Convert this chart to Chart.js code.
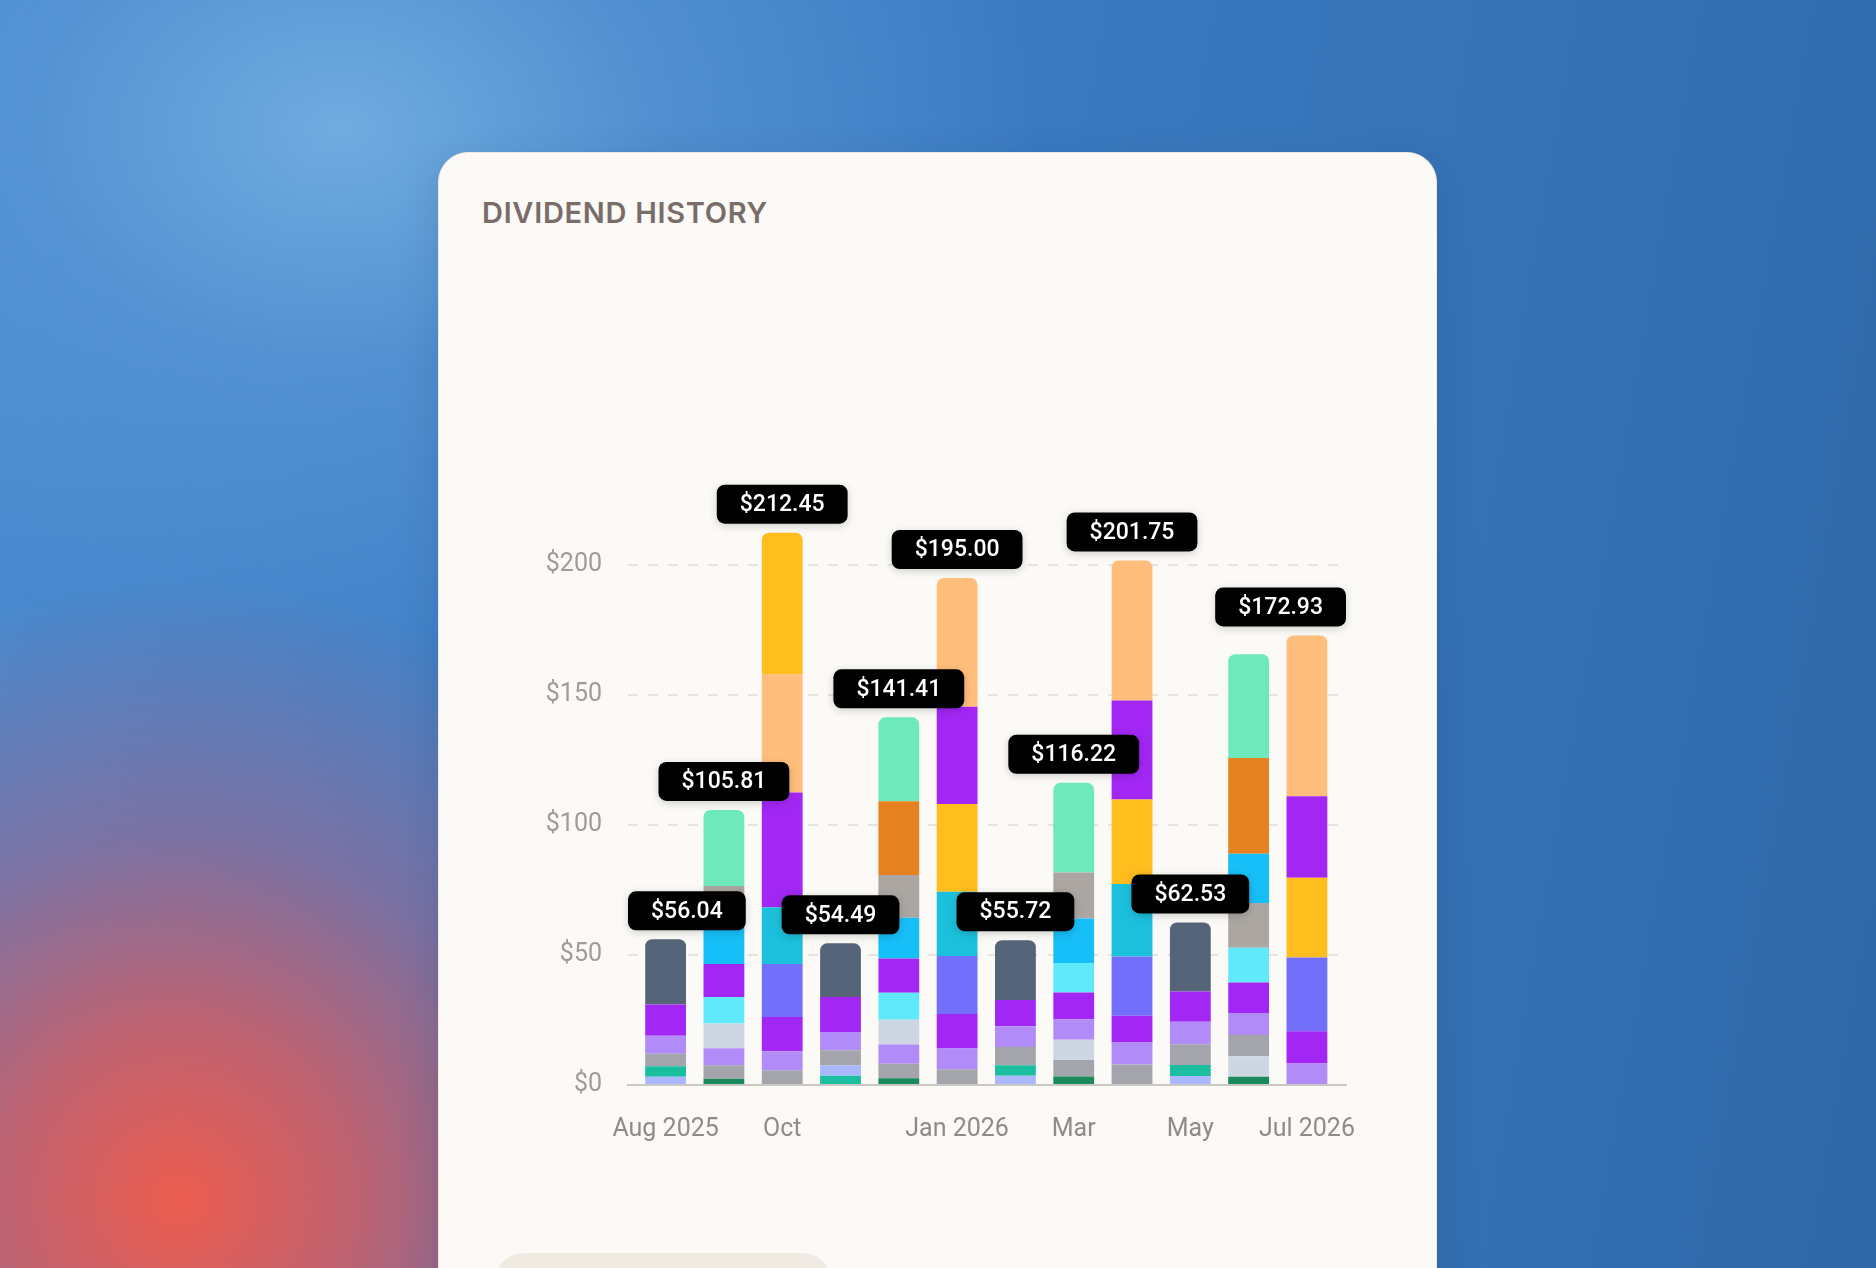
<!DOCTYPE html>
<html lang="en">
<head>
    <meta charset="UTF-8">
    <title>Dividend History</title>
    <script src="https://cdn.jsdelivr.net/npm/chart.js"></script>
    <style>
        html, body {
            margin: 0;
            padding: 0;
            width: 1876px;
            height: 1268px;
            overflow: hidden;
        }

        body {
            position: relative;
            background:
                radial-gradient(circle at 180px 1200px, rgba(236, 92, 78, 1) 0, rgba(214, 92, 96, 0.85) 170px, rgba(170, 98, 130, 0.55) 360px, rgba(110, 110, 170, 0) 620px),
                radial-gradient(ellipse 700px 520px at 340px 130px, rgba(112, 172, 224, 1) 0, rgba(90, 152, 214, 0.6) 320px, rgba(70, 130, 200, 0) 700px),
                linear-gradient(100deg, #4a8bd0 0%, #3c7cc3 45%, #2e68a9 100%);
            font-family: 'Inter', 'Roboto', sans-serif;
        }

        .card {
            position: absolute;
            left: 438px;
            top: 152px;
            width: 999px;
            height: 1200px;
            background: #fbfaf6;
            border-radius: 30px;
            border: 1px solid #eee8de;
            box-sizing: border-box;
            box-shadow: 0 12px 40px rgba(20, 40, 80, 0.14);
        }

        .card h2 {
            position: absolute;
            left: 43px;
            top: 45px;
            margin: 0;
            font-size: 29px;
            line-height: 29px;
            font-weight: 600;
            color: #7a6c68;
            letter-spacing: 0.7px;
        }

        .button-stub {
            position: absolute;
            left: 55px;
            top: 1100px;
            width: 338px;
            height: 80px;
            border-radius: 30px;
            background: #efebe3;
        }

        #chart-wrap {
            position: absolute;
            left: 439px;
            top: 420px;
            width: 998px;
            height: 740px;
        }
    </style>
</head>
<body>
    <div class="card">
        <h2>DIVIDEND HISTORY</h2>
        <div class="button-stub"></div>
    </div>
    <div id="chart-wrap">
        <canvas id="dividend-chart"></canvas>
    </div>
    <script>
        // months shown on the x axis (Aug 2025 .. Jul 2026)
        const months = ['Aug 2025', 'Sep 2025', 'Oct 2025', 'Nov 2025', 'Dec 2025', 'Jan 2026',
                        'Feb 2026', 'Mar 2026', 'Apr 2026', 'May 2026', 'Jun 2026', 'Jul 2026'];
        const tickLabels = ['Aug 2025', '', 'Oct', '', '', 'Jan 2026', '', 'Mar', '', 'May', '', 'Jul 2026'];
        const yTicks = [0, 50, 100, 150, 200];

        // dividend paid per holding per month (null = nothing paid that month)
        const periwinkle = [3.2, null, null, 3.9, null, null, 3.6, null, null, 3.5, null, null];
        const teal       = [4.0, null, null, 3.6, null, null, 4.0, null, null, 4.2, null, null];
        const grey       = [4.8, 5.2, 5.7, 5.9, 5.6, 6.1, 7.0, 6.3, 7.9, 8.0, 8.1, null];
        const lavender   = [6.9, 6.5, 7.3, 7.0, 7.4, 7.9, 8.0, 7.9, 8.4, 8.6, 8.5, 8.3];
        const purple     = [12.1, 12.7, 13.2, 13.4, 13.2, 13.3, 10.1, 10.3, 10.3, 11.7, 11.7, 12.4];
        const slate      = [25.04, null, null, 20.69, null, null, 23.02, null, null, 26.53, null, null];
        const darkGreen  = [null, 2.4, null, null, 2.6, null, null, 3.3, null, null, 3.2, null];
        const blueGrey   = [null, 9.6, null, null, 9.5, null, null, 7.8, null, null, 7.9, null];
        const cyanLight  = [null, 10.1, null, null, 10.4, null, null, 11.3, null, null, 13.4, null];
        const skyBlue    = [null, 14.9, null, null, 15.6, null, null, 17.1, null, null, 18.9, null];
        const warmGrey   = [null, 15.1, null, null, 16.5, null, null, 17.7, null, null, 17.2, null];
        const orange     = [null, null, null, null, 28.3, null, null, null, null, null, 36.9, null];
        const mint       = [null, 29.31, null, null, 32.31, null, null, 34.52, null, null, 39.9, null];
        const indigo     = [null, null, 20.3, null, null, 22.3, null, null, 22.8, null, null, 28.3];
        const tealCyan   = [null, null, 21.9, null, null, 24.7, null, null, 27.9, null, null, null];
        const gold       = [null, null, 54.45, null, null, 33.8, null, null, 32.5, null, null, 30.7];
        const violet     = [null, null, 44.1, null, null, 37.4, null, null, 38.1, null, null, 31.4];
        const peach      = [null, null, 45.5, null, null, 49.5, null, null, 53.85, null, null, 61.83];

        const holdings = [
            ['periwinkle', periwinkle], ['teal', teal], ['grey', grey], ['lavender', lavender],
            ['purple', purple], ['slate', slate], ['darkGreen', darkGreen], ['blueGrey', blueGrey],
            ['cyanLight', cyanLight], ['skyBlue', skyBlue], ['warmGrey', warmGrey], ['orange', orange],
            ['mint', mint], ['indigo', indigo], ['tealCyan', tealCyan], ['gold', gold],
            ['violet', violet], ['peach', peach]
        ];

        const palette = {
            periwinkle: '#a9b8ff', teal: '#1bbf9f', grey: '#a4a4ad', lavender: '#b18cf8',
            purple: '#a227f4', slate: '#56647a', darkGreen: '#1a8a5c', blueGrey: '#cdd7e3',
            cyanLight: '#5fe9fa', skyBlue: '#17bff9', warmGrey: '#aba6a1', orange: '#e5821f',
            mint: '#6ee9bd', indigo: '#7270fa', tealCyan: '#1dc0dc', gold: '#ffbe1e',
            violet: '#a227f4', peach: '#ffbe7b'
        };

        // each bar stacks its holdings smallest at the bottom, so build one dataset per layer
        const sortedPerMonth = months.map((m, i) => holdings
            .filter(([, vals]) => vals[i] != null)
            .map(([name, vals]) => ({ name, value: vals[i] }))
            .sort((a, b) => a.value - b.value));
        const layerCount = Math.max(...sortedPerMonth.map(s => s.length));
        const totals = sortedPerMonth.map(s => s.reduce((sum, h) => sum + h.value, 0));

        const datasets = [];
        for (let layer = 0; layer < layerCount; layer++) {
            datasets.push({
                data: sortedPerMonth.map(s => s[layer] ? s[layer].value : null),
                backgroundColor: sortedPerMonth.map(s => s[layer] ? palette[s[layer].name] : 'transparent'),
                borderWidth: 0,
                borderRadius: 7,
                barPercentage: 0.7,
                categoryPercentage: 1
            });
        }

        // black pill labels with the month total; skip one if it would collide with a bigger one
        const totalLabels = {
            id: 'totalLabels',
            afterDatasetsDraw(chart) {
                const { ctx, chartArea, scales: { x, y } } = chart;
                ctx.save();
                ctx.font = '500 23px Roboto';
                const placed = [];
                const order = totals.map((t, i) => i).sort((a, b) => totals[b] - totals[a]);
                order.forEach(i => {
                    const text = '$' + totals[i].toFixed(2);
                    const w = ctx.measureText(text).width + 46;
                    const h = 39;
                    let left = x.getPixelForValue(i) - w / 2;
                    left = Math.max(chartArea.left, Math.min(chartArea.right - w, left));
                    const top = y.getPixelForValue(totals[i]) - 9 - h;
                    const box = { left, top, right: left + w, bottom: top + h };
                    const hit = placed.some(b => box.left < b.right && box.right > b.left &&
                                                 box.top < b.bottom && box.bottom > b.top);
                    if (hit) return;
                    placed.push(box);
                    ctx.shadowColor = 'rgba(0, 0, 0, 0.18)';
                    ctx.shadowBlur = 8;
                    ctx.shadowOffsetY = 2;
                    ctx.fillStyle = '#000';
                    ctx.beginPath();
                    ctx.roundRect(left, top, w, h, 8);
                    ctx.fill();
                    ctx.shadowColor = 'transparent';
                    ctx.fillStyle = '#fff';
                    ctx.textAlign = 'center';
                    ctx.textBaseline = 'middle';
                    ctx.fillText(text, left + w / 2, top + h / 2 + 1);
                });
                ctx.restore();
            }
        };

        new Chart(document.getElementById('dividend-chart'), {
            type: 'bar',
            data: {
                labels: months.map((m, i) => i),
                datasets: datasets
            },
            options: {
                responsive: true,
                maintainAspectRatio: false,
                animation: false,
                layout: { padding: { left: 0, right: 91, top: 32, bottom: 0 } },
                plugins: {
                    legend: { display: false },
                    tooltip: { enabled: false }
                },
                scales: {
                    x: {
                        type: 'linear',
                        stacked: true,
                        offset: false,
                        bounds: 'data',
                        min: -0.645,
                        max: 11.67,
                        afterBuildTicks: axis => { axis.ticks = months.map((m, i) => ({ value: i })); },
                        afterFit: axis => { axis.height = 75; },
                        grid: { display: false, drawTicks: false, offset: false },
                        border: { display: true, color: '#cbc8c3', width: 2 },
                        ticks: {
                            autoSkip: false,
                            maxRotation: 0,
                            padding: 30,
                            color: '#8f8b87',
                            font: { family: 'Roboto', size: 25 },
                            callback: v => tickLabels[v]
                        }
                    },
                    y: {
                        stacked: true,
                        min: 0,
                        max: 240,
                        afterBuildTicks: axis => { axis.ticks = yTicks.map(v => ({ value: v })); },
                        afterFit: axis => { axis.width = 189; },
                        grid: {
                            drawTicks: false,
                            lineWidth: 2,
                            color: c => c.tick && c.tick.value === 0 ? 'transparent' : '#e6e3de'
                        },
                        border: { display: false, dash: [10, 10] },
                        ticks: {
                            padding: 26,
                            color: '#a09b96',
                            font: { family: 'Roboto', size: 25 },
                            callback: v => '$' + v
                        }
                    }
                }
            },
            plugins: [totalLabels]
        });
    </script>
</body>
</html>
